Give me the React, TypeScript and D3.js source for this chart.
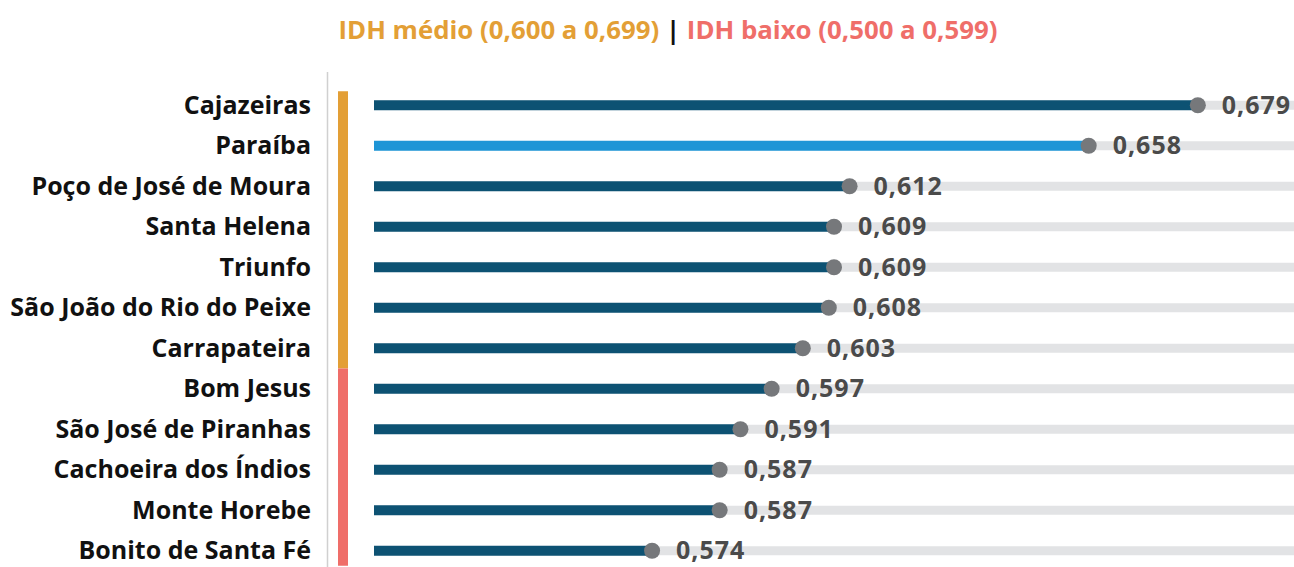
import React from 'react';
import * as d3 from 'd3';

const cities = [
  'Cajazeiras', 'Paraíba', 'Poço de José de Moura', 'Santa Helena', 'Triunfo',
  'São João do Rio do Peixe', 'Carrapateira', 'Bom Jesus', 'São José de Piranhas',
  'Cachoeira dos Índios', 'Monte Horebe', 'Bonito de Santa Fé',
];
const idh = [0.679, 0.658, 0.612, 0.609, 0.609, 0.608, 0.603, 0.597, 0.591, 0.587, 0.587, 0.574];
const highlight = 'Paraíba';

const W = 1294;
const H = 567;
const FONT = '"Open Sans", "Noto Sans", sans-serif';

const App = () => {
  const x = d3.scaleLinear().domain([0.5205, 0.6975]).range([374, 1294]);
  const y = d3.scaleBand().domain(cities).range([85, 571]).paddingInner(0);
  const cy = (c: string) => (y(c) as number) + y.bandwidth() / 2;
  const fmt = (v: number) => d3.format('.3f')(v).replace('.', ',');

  const medio = cities.filter((c, i) => idh[i] >= 0.6);
  const top = cy(cities[0]) - 14;
  const split = (cy(medio[medio.length - 1]) + cy(cities[medio.length])) / 2;
  const bottom = cy(cities[cities.length - 1]) + 15;

  return (
    <svg width={W} height={H} style={{ position: 'absolute', left: 0, top: 0, fontFamily: FONT }}>
      <text x={668} y={39} textAnchor="middle" fontSize={25.8} fontWeight={700}>
        <tspan fill="#E39F36">IDH médio (0,600 a 0,699)</tspan>
        <tspan fill="#111"> | </tspan>
        <tspan fill="#EF6E69">IDH baixo (0,500 a 0,599)</tspan>
      </text>

      <line x1={327.5} x2={327.5} y1={72} y2={H} stroke="#d0d0d0" strokeWidth={1.5} />
      <rect x={338} y={top} width={10} height={split - top} fill="#E39F36" />
      <rect x={338} y={split} width={10} height={bottom - split} fill="#EF6E69" />

      {cities.map((c, i) => (
        <g key={c}>
          <text x={311} y={cy(c)} dy="0.34em" textAnchor="end" fontSize={25} fontWeight={700} fill="#111">
            {c}
          </text>
          <rect x={x.range()[0]} y={cy(c) - 4.5} width={x.range()[1] - x.range()[0]} height={9} fill="#E2E3E5" />
          <rect x={x.range()[0]} y={cy(c) - 5} width={x(idh[i]) - x.range()[0]} height={10}
            fill={c === highlight ? '#1E95D6' : '#0D5273'} />
          <circle cx={x(idh[i])} cy={cy(c)} r={8} fill="#76787B" />
          <text x={x(idh[i]) + 24} y={cy(c)} dy="0.34em" fontSize={25} fontWeight={700} fill="#4a4a4a"
            letterSpacing={1}>
            {fmt(idh[i])}
          </text>
        </g>
      ))}
    </svg>
  );
};

export default App;
